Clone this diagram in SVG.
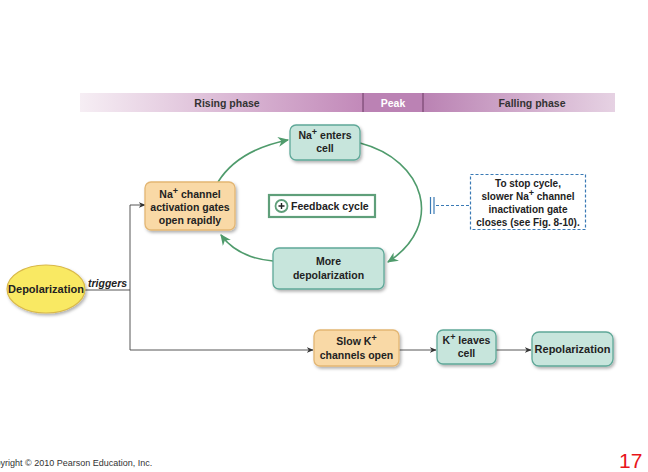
<svg xmlns="http://www.w3.org/2000/svg" width="648" height="472" viewBox="0 0 648 472">
<style>
text{font-family:"Liberation Sans",Arial,sans-serif;font-weight:bold;fill:#222;}
.t{font-size:10.5px;text-anchor:middle;}
.sup{font-size:9px;}
.teal{fill:#c7e5dc;stroke:#5fa898;stroke-width:1.3;}
.orng{fill:#f9d9a6;stroke:#e3b673;stroke-width:1.3;}
.conn{fill:none;stroke:#444;stroke-width:0.9;}
.green{fill:none;stroke:#4f9b6c;stroke-width:1.6;}
</style>
<defs>
<linearGradient id="g1" x1="0" x2="1" y1="0" y2="0">
<stop offset="0" stop-color="#f6eef4"/>
<stop offset="1" stop-color="#c289b9"/>
</linearGradient>
<linearGradient id="g2" x1="0" x2="1" y1="0" y2="0">
<stop offset="0" stop-color="#ba82b3"/>
<stop offset="1" stop-color="#e6d2e3"/>
</linearGradient>
<filter id="sh" x="-20%" y="-20%" width="150%" height="160%">
<feDropShadow dx="1.5" dy="2" stdDeviation="1.5" flood-color="#000" flood-opacity="0.3"/>
</filter>
<marker id="ah" viewBox="0 0 10 10" refX="9" refY="5" markerWidth="7" markerHeight="7" orient="auto" markerUnits="userSpaceOnUse">
<path d="M0,1 L10,5 L0,9 L3,5 Z" fill="#333"/>
</marker>
<marker id="ag" viewBox="0 0 10 10" refX="9" refY="5" markerWidth="11" markerHeight="11" orient="auto" markerUnits="userSpaceOnUse">
<path d="M0,0.5 L10,5 L0,9.5 L3,5 Z" fill="#4f9b6c"/>
</marker>
</defs>
<rect width="648" height="472" fill="#fff"/>
<g id="banner">
<rect x="80" y="93" width="283" height="19" fill="url(#g1)"/>
<rect x="363" y="93" width="60" height="19" fill="#bb82b4"/>
<rect x="423" y="93" width="192" height="19" fill="url(#g2)"/>
<line x1="363" y1="93" x2="363" y2="112" stroke="#6a3a62" stroke-width="1"/>
<line x1="423" y1="93" x2="423" y2="112" stroke="#6a3a62" stroke-width="1"/>
<text x="227" y="106.5" style="font-size:10.5px;text-anchor:middle;fill:#333">Rising phase</text>
<text x="393" y="106.5" style="font-size:10.5px;text-anchor:middle;fill:#fff">Peak</text>
<text x="532" y="106.5" style="font-size:10.5px;text-anchor:middle;fill:#333">Falling phase</text>
</g>
<g id="connectors">
<path class="green" d="M218,182 Q238,150 288,140" marker-end="url(#ag)"/>
<path class="green" d="M360,143 C425,160 445,225 388,262" marker-end="url(#ag)"/>
<path class="green" d="M273,261 Q238,258 221,235" marker-end="url(#ag)"/>
<line x1="430.5" y1="197" x2="430.5" y2="214" stroke="#3a7ab5" stroke-width="1.2"/>
<line x1="434" y1="197" x2="434" y2="214" stroke="#3a7ab5" stroke-width="1.2"/>
<line x1="436" y1="205.5" x2="470" y2="205.5" stroke="#3a7ab5" stroke-width="1.2" stroke-dasharray="3,2"/>
<path class="conn" d="M84,290 H130"/>
<path class="conn" d="M130,205 V350"/>
<path class="conn" d="M130,205 H145" marker-end="url(#ah)"/>
<path class="conn" d="M130,350 H313" marker-end="url(#ah)"/>
<path class="conn" d="M399,350 H436" marker-end="url(#ah)"/>
<path class="conn" d="M496,350 H531" marker-end="url(#ah)"/>
<text x="88" y="287" style="font-size:10.5px;font-style:italic;">triggers</text>
</g>
<g id="na-enters">
<rect class="teal" x="290" y="125" width="70" height="35" rx="6" filter="url(#sh)"/>
<text class="t" x="325" y="139">Na<tspan class="sup" dy="-4">+</tspan><tspan dy="4"> enters</tspan></text>
<text class="t" x="325" y="152">cell</text>
</g>
<g id="na-channel">
<rect class="orng" x="145" y="182" width="90" height="48" rx="6" filter="url(#sh)"/>
<text class="t" x="190" y="198">Na<tspan class="sup" dy="-4">+</tspan><tspan dy="4"> channel</tspan></text>
<text class="t" x="190" y="211">activation gates</text>
<text class="t" x="190" y="224">open rapidly</text>
</g>
<g id="feedback">
<rect x="269" y="195" width="106" height="22" fill="#fff" stroke="#5f9f7a" stroke-width="2.2"/>
<circle cx="281.5" cy="206" r="6" fill="#fff" stroke="#5f9f7a" stroke-width="1.8"/>
<path d="M278.5,206 H284.5 M281.5,203 V209" stroke="#222" stroke-width="1.4"/>
<text x="291" y="210" style="font-size:10.5px;">Feedback cycle</text>
</g>
<g id="stop">
<rect x="470.5" y="174.5" width="115" height="55" fill="#fff" stroke="#3a7ab5" stroke-width="1.2" stroke-dasharray="3,2"/>
<text class="t" x="528" y="187" style="font-size:10px">To stop cycle,</text>
<text class="t" x="528" y="200" style="font-size:10px">slower Na<tspan class="sup" dy="-4">+</tspan><tspan dy="4"> channel</tspan></text>
<text class="t" x="528" y="213" style="font-size:10px">inactivation gate</text>
<text class="t" x="528" y="226" style="font-size:10px">closes (see Fig. 8-10).</text>
</g>
<g id="more-depol">
<rect class="teal" x="273" y="248" width="111" height="41" rx="6" filter="url(#sh)"/>
<text class="t" x="328.5" y="265">More</text>
<text class="t" x="328.5" y="279">depolarization</text>
</g>
<g id="depol">
<ellipse cx="46" cy="289" rx="39" ry="24" fill="#f9e964" stroke="#d9b94a" stroke-width="1.2" filter="url(#sh)"/>
<text class="t" x="46" y="293" style="font-size:11px">Depolarization</text>
</g>
<g id="slow-k">
<rect class="orng" x="314" y="330" width="85" height="36" rx="6" filter="url(#sh)"/>
<text class="t" x="356.5" y="345">Slow K<tspan class="sup" dy="-4">+</tspan></text>
<text class="t" x="356.5" y="359">channels open</text>
</g>
<g id="k-leaves">
<rect class="teal" x="437" y="330" width="59" height="34" rx="6" filter="url(#sh)"/>
<text class="t" x="466.5" y="344">K<tspan class="sup" dy="-4">+</tspan><tspan dy="4"> leaves</tspan></text>
<text class="t" x="466.5" y="357">cell</text>
</g>
<g id="repol">
<rect class="teal" x="532" y="332" width="81" height="34" rx="7" filter="url(#sh)"/>
<text class="t" x="572.5" y="353" style="font-size:11px">Repolarization</text>
</g>
<text x="-16" y="466" style="font-size:9px;font-weight:normal;fill:#333">Copyright © 2010 Pearson Education, Inc.</text>
<text x="619" y="468" style="font-size:21px;font-weight:normal;fill:#e8151b">17</text>
</svg>
